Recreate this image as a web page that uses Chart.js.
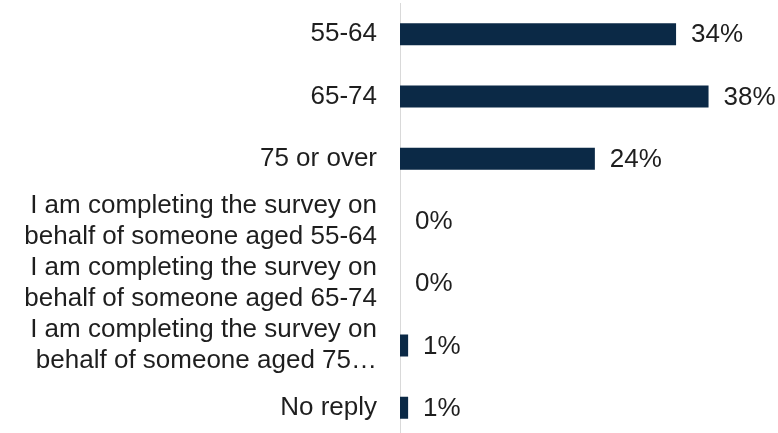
<!DOCTYPE html>
<html>
<head>
<meta charset="utf-8">
<script src="https://cdn.jsdelivr.net/npm/chart.js@4/dist/chart.umd.min.js"></script>
<style>
  html, body { margin: 0; padding: 0; background: #ffffff; overflow: hidden; }
  #wrap { width: 778px; height: 440px; }
</style>
</head>
<body>
<div id="wrap"><canvas id="chart" width="778" height="440"></canvas></div>
<script>
// Respondent age groups and share of replies (%)
const categories = [
  "55-64",
  "65-74",
  "75 or over",
  ["I am completing the survey on", "behalf of someone aged 55-64"],
  ["I am completing the survey on", "behalf of someone aged 65-74"],
  ["I am completing the survey on", "behalf of someone aged 75\u2026"],
  "No reply"
];
const shares = [34, 38, 24, 0, 0, 1, 1];

const FONT = "'Liberation Sans', Arial, sans-serif";
const TEXT_COLOR = "#1e1e1e";
const BAR_COLOR = "#0b2946";

// Percentage label to the right of each bar
const valueLabels = {
  id: "valueLabels",
  afterDatasetsDraw(chart) {
    const ctx = chart.ctx;
    const meta = chart.getDatasetMeta(0);
    const values = chart.data.datasets[0].data;
    ctx.save();
    ctx.font = "26px " + FONT;
    ctx.fillStyle = TEXT_COLOR;
    ctx.textAlign = "left";
    ctx.textBaseline = "middle";
    meta.data.forEach((bar, i) => {
      ctx.fillText(values[i] + "%", bar.x + 15, bar.y + 1);
    });
    ctx.restore();
  }
};

new Chart(document.getElementById("chart"), {
  type: "bar",
  data: {
    labels: categories,
    datasets: [{
      data: shares,
      backgroundColor: BAR_COLOR,
      borderWidth: 0,
      inflateAmount: 0,
      barThickness: 22
    }]
  },
  options: {
    indexAxis: "y",
    responsive: false,
    animation: false,
    devicePixelRatio: 1,
    layout: { padding: { top: 3, bottom: 1, left: 0, right: 4.5 } },
    plugins: {
      legend: { display: false },
      tooltip: { enabled: false }
    },
    scales: {
      x: {
        display: false,
        min: 0,
        max: 46
      },
      y: {
        grid: { display: false, drawTicks: false },
        border: { display: true, color: "#d9d9d9", width: 1 },
        ticks: {
          color: TEXT_COLOR,
          padding: 23,
          autoSkip: false,
          font: { family: FONT, size: 26, lineHeight: 1.18 }
        },
        afterFit(scale) {
          scale.width = 400;
          scale.paddingTop = 0;
          scale.paddingBottom = 0;
        }
      }
    }
  },
  plugins: [valueLabels]
});
</script>
</body>
</html>
